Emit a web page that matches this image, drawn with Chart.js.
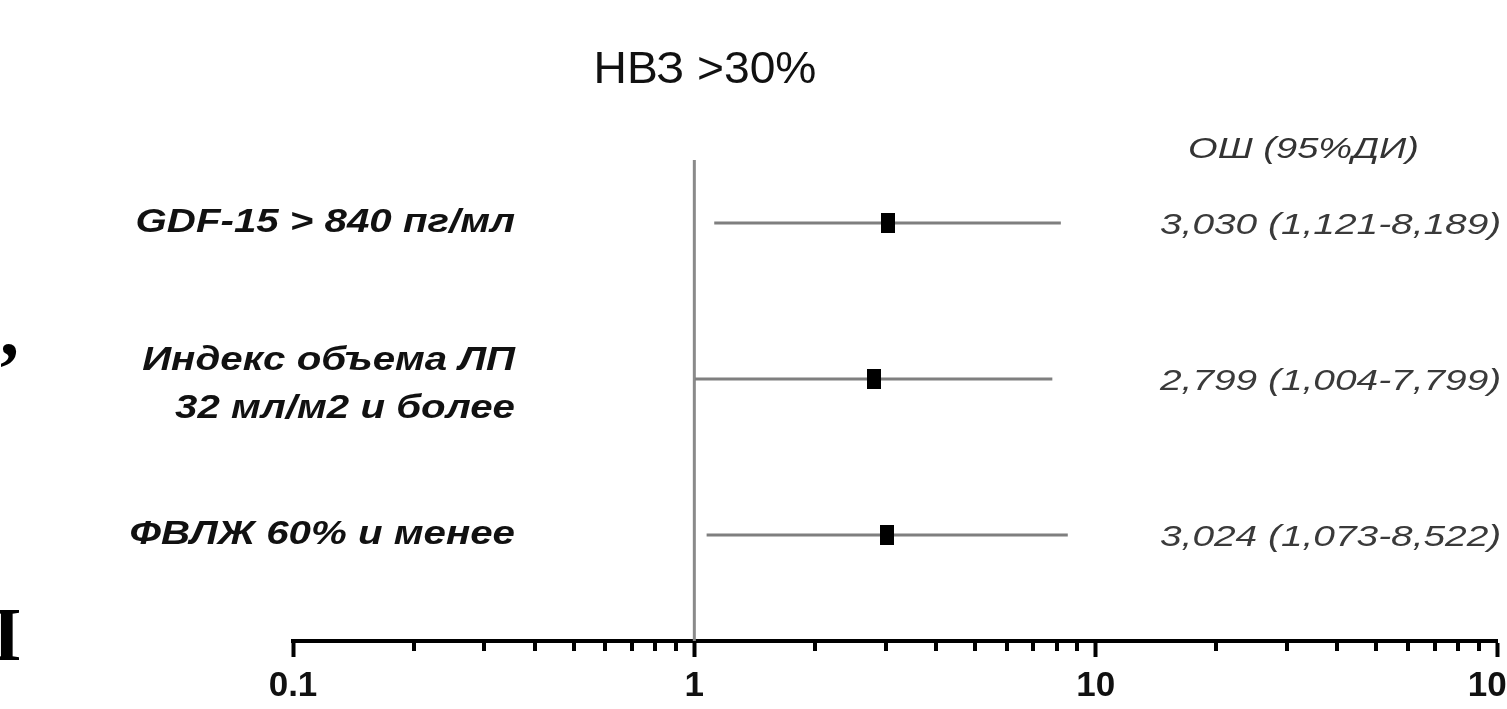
<!DOCTYPE html>
<html>
<head>
<meta charset="utf-8">
<script src="https://cdn.jsdelivr.net/npm/chart.js@4"></script>
<style>
  body { margin: 0; background: #fff; }
  canvas { display: block; }
</style>
</head>
<body>
<canvas id="forest" width="1507" height="709"></canvas>
<script>
// data
const titleText = 'НВЗ >30%';
const headerText = 'ОШ (95%ДИ)';
const rowLabels = [
  ['GDF-15 > 840 пг/мл'],
  ['Индекс объема ЛП', '32 мл/м2 и более'],
  ['ФВЛЖ 60% и менее']
];
const oddsRatio = [3.030, 2.799, 3.024];
const ciLower = [1.121, 1.004, 1.073];
const ciUpper = [8.189, 7.799, 8.522];
const majorTicks = [0.1, 1, 10, 100];
const minorTicks = [0.2, 0.3, 0.4, 0.5, 0.6, 0.7, 0.8, 0.9,
                    2, 3, 4, 5, 6, 7, 8, 9,
                    20, 30, 40, 50, 60, 70, 80, 90];

const Y_MIN = 0.32, Y_MAX = 3.404;
const rowY = rowLabels.map((_, i) => rowLabels.length - i);

function fmt(v) { return v.toFixed(3).replace('.', ','); }

function isMajor(v) {
  return majorTicks.some(m => Math.abs(m - v) < 1e-9);
}

// black box used as point marker
const box = document.createElement('canvas');
box.width = 14; box.height = 20;
const bctx = box.getContext('2d');
bctx.fillStyle = '#000';
bctx.fillRect(0, 0, 14, 20);

function stretchText(ctx, text, x, y, align, font, color, sx) {
  ctx.save();
  ctx.font = font;
  ctx.fillStyle = color;
  ctx.textBaseline = 'middle';
  ctx.textAlign = 'left';
  const w = ctx.measureText(text).width * sx;
  const left = align === 'right' ? x - w : align === 'center' ? x - w / 2 : x;
  ctx.translate(left, y);
  ctx.scale(sx, 1);
  ctx.fillText(text, 0, 0);
  ctx.restore();
}

const datasets = [];

// odds ratios (drawn on top)
datasets.push({
  data: rowY.map((y, i) => ({ x: oddsRatio[i], y: y })),
  pointStyle: box,
  pointRadius: 8,
  order: 0
});

// line of no effect
datasets.push({
  data: [{ x: 1, y: Y_MIN }, { x: 1, y: Y_MAX }],
  showLine: true,
  borderColor: '#8a8a8a',
  borderWidth: 3,
  pointRadius: 0,
  order: 2
});

// confidence intervals
rowY.forEach((y, i) => {
  datasets.push({
    data: [{ x: ciLower[i], y: y }, { x: ciUpper[i], y: y }],
    showLine: true,
    borderColor: '#7f7f7f',
    borderWidth: 3,
    pointRadius: 0,
    order: 1
  });
});

const minorTickPlugin = {
  id: 'minorTicks',
  afterDraw(chart) {
    const ctx = chart.ctx;
    const x = chart.scales.x;
    const top = chart.chartArea.bottom;
    ctx.save();
    ctx.strokeStyle = '#000';
    ctx.lineWidth = 4;
    minorTicks.forEach(v => {
      const px = Math.round(x.getPixelForValue(v));
      ctx.beginPath();
      ctx.moveTo(px, top);
      ctx.lineTo(px, top + 10);
      ctx.stroke();
    });
    ctx.restore();
  }
};

const textPlugin = {
  id: 'forestText',
  afterDraw(chart) {
    const ctx = chart.ctx;
    const y = chart.scales.y;

    stretchText(ctx, titleText, 705, 71, 'center', '44px "Liberation Sans"', '#111', 1.05);
    stretchText(ctx, headerText, 1188, 150, 'left', 'italic 30px "Liberation Sans"', '#333', 1.27);

    rowY.forEach((v, i) => {
      const py = y.getPixelForValue(v);
      const lines = rowLabels[i];
      lines.forEach((line, j) => {
        const off = (j - (lines.length - 1) / 2) * 48 + (lines.length > 1 ? 6 : 0);
        stretchText(ctx, line, 515, py + off, 'right', 'italic bold 33px "Liberation Sans"', '#111', 1.22);
      });
      const txt = fmt(oddsRatio[i]) + ' (' + fmt(ciLower[i]) + '-' + fmt(ciUpper[i]) + ')';
      stretchText(ctx, txt, 1160, py + 3, 'left', 'italic 30px "Liberation Sans"', '#3a3a3a', 1.295);
    });

    // bits of neighbouring text cut by the crop
    ctx.save();
    ctx.font = 'bold 76px "Liberation Serif"';
    ctx.fillStyle = '#000';
    ctx.textBaseline = 'alphabetic';
    ctx.fillText(',', 0, 355);
    ctx.fillText('I', -8, 660);
    ctx.restore();
  }
};

new Chart(document.getElementById('forest'), {
  type: 'scatter',
  data: { datasets: datasets },
  options: {
    responsive: false,
    animation: false,
    layout: { padding: { left: 293, right: 10, top: 160, bottom: 0 } },
    plugins: { legend: { display: false }, tooltip: { enabled: false } },
    scales: {
      x: {
        type: 'logarithmic',
        min: 0.1,
        max: 100,
        afterBuildTicks: scale => {
          scale.ticks = majorTicks.map(v => ({ value: v, major: true }));
        },
        afterFit: scale => {
          scale.height = 68;
          scale.paddingLeft = 0;
          scale.paddingRight = 0;
        },
        border: { display: true, color: '#000', width: 4 },
        grid: {
          display: true,
          drawOnChartArea: false,
          drawTicks: true,
          tickLength: 16,
          tickWidth: 4,
          tickColor: '#000'
        },
        ticks: {
          autoSkip: false,
          maxRotation: 0,
          padding: 8,
          color: '#111',
          font: { family: 'Liberation Sans', size: 35, weight: 'bold' },
          callback: v => isMajor(v) ? String(v) : ''
        }
      },
      y: {
        type: 'linear',
        min: Y_MIN,
        max: Y_MAX,
        display: false
      }
    }
  },
  plugins: [minorTickPlugin, textPlugin]
});
</script>
</body>
</html>
